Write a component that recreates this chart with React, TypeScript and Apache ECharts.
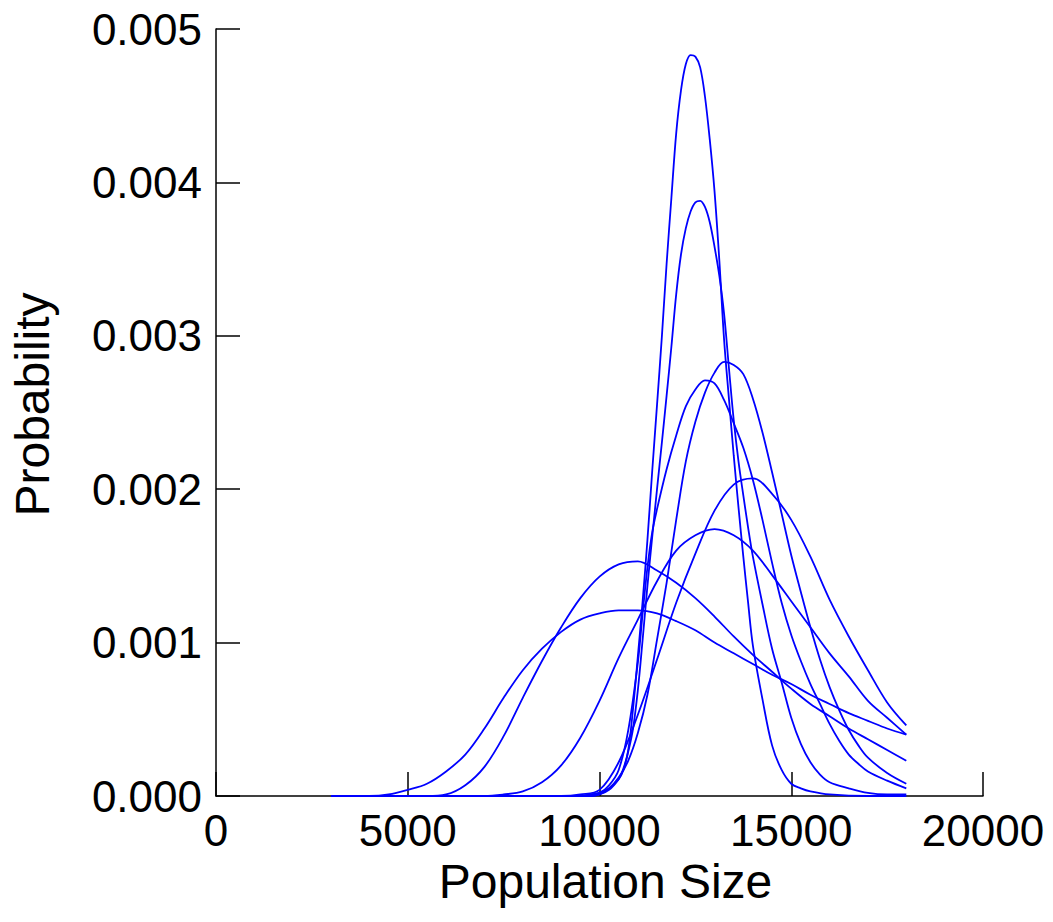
import React, { useEffect, useRef } from "react";
import * as echarts from "echarts";

const xTicks = [0, 5000, 10000, 15000, 20000];
const yTicks = [0, 0.001, 0.002, 0.003, 0.004, 0.005];
const xAxisTitle = "Population Size";
const yAxisTitle = "Probability";

const curveA: [number, number][] = [
  [3000, 0], [9500, 0], [9750, 0], [10000, 0.00001], [10250, 0.00004], [10500, 0.00011],
  [10625, 0.00017], [10750, 0.0003], [10875, 0.00057], [11000, 0.00091], [11125, 0.00127],
  [11250, 0.00167], [11375, 0.00212], [11500, 0.00255], [11625, 0.00299], [11750, 0.00347],
  [11875, 0.0039], [12000, 0.00432], [12125, 0.0046], [12250, 0.00477], [12375, 0.00483],
  [12500, 0.00482], [12625, 0.00475], [12750, 0.00456], [12875, 0.00428], [13000, 0.00394],
  [13125, 0.00349], [13250, 0.00297], [13375, 0.00259], [13500, 0.00222], [13625, 0.00188],
  [13750, 0.00156], [13875, 0.00126], [14000, 0.00098], [14250, 0.00063], [14500, 0.00033],
  [14750, 0.00017], [15000, 0.00008], [15250, 0.00005], [15500, 0.00003], [16000, 0.00001],
  [17000, 0], [18000, 0],
];
const curveB: [number, number][] = [
  [3000, 0], [9000, 0], [9500, 0], [9750, 0.00001], [10000, 0.00002], [10250, 0.00005],
  [10500, 0.00011], [10625, 0.00018], [10750, 0.00029], [10875, 0.00044], [11000, 0.00069],
  [11125, 0.00102], [11250, 0.00137], [11375, 0.00169], [11500, 0.002], [11625, 0.0023],
  [11750, 0.00261], [11875, 0.00293], [12000, 0.00327], [12125, 0.00353], [12250, 0.0037],
  [12375, 0.00381], [12500, 0.00387], [12625, 0.00388], [12750, 0.00384], [12875, 0.00374],
  [13000, 0.00358], [13125, 0.00339], [13250, 0.00314], [13375, 0.00279], [13500, 0.00245],
  [13625, 0.00218], [13750, 0.00196], [13875, 0.00175], [14000, 0.00156], [14250, 0.00125],
  [14500, 0.00096], [14750, 0.00074], [15000, 0.00051], [15250, 0.00034], [15500, 0.00022],
  [15750, 0.00014], [16000, 0.00009], [16500, 0.00005], [17000, 0.00002], [17500, 0.00001],
  [18000, 0.00001],
];
const curveC: [number, number][] = [
  [3000, 0], [9000, 0], [9500, 0], [9750, 0], [10000, 0.00001], [10250, 0.00005],
  [10500, 0.00012], [10750, 0.00023], [11000, 0.00041], [11250, 0.00066], [11500, 0.00102],
  [11750, 0.00139], [12000, 0.0018], [12250, 0.00218], [12500, 0.00244], [12750, 0.00263],
  [13000, 0.00276], [13250, 0.00283], [13500, 0.00281], [13750, 0.00275], [14000, 0.00259],
  [14250, 0.00237], [14500, 0.00211], [14750, 0.00184], [15000, 0.00157], [15250, 0.00133],
  [15500, 0.0011], [15750, 0.00089], [16000, 0.00071], [16250, 0.00056], [16500, 0.00043],
  [16750, 0.00033], [17000, 0.00025], [17500, 0.00015], [18000, 0.00008],
];
const curveD: [number, number][] = [
  [3000, 0], [9000, 0], [9500, 0], [9750, 0.00001], [10000, 0.00002], [10250, 0.00007],
  [10500, 0.00017], [10750, 0.00043], [11000, 0.00087], [11125, 0.00119], [11250, 0.00149],
  [11375, 0.00172], [11500, 0.00187], [11750, 0.00213], [12000, 0.00235], [12250, 0.00254],
  [12500, 0.00265], [12750, 0.00271], [13000, 0.00269], [13250, 0.00258], [13500, 0.00243],
  [13750, 0.00227], [14000, 0.00206], [14250, 0.0018], [14500, 0.00152], [14750, 0.00126],
  [15000, 0.00105], [15250, 0.00088], [15500, 0.00073], [15750, 0.0006], [16000, 0.00047],
  [16250, 0.00036], [16500, 0.00027], [16750, 0.00021], [17000, 0.00016], [17500, 0.0001],
  [18000, 0.00005],
];
const curveE: [number, number][] = [
  [3000, 0], [4000, 0], [5000, 0], [6000, 0], [7000, 0], [8000, 0], [8500, 0], [9000, 0],
  [9500, 0.00001], [10000, 0.00004], [10500, 0.00022], [11000, 0.00053], [11500, 0.00089],
  [12000, 0.00126], [12500, 0.00158], [13000, 0.00186], [13500, 0.00203], [14000, 0.00207],
  [14500, 0.00197], [15000, 0.0018], [15500, 0.00156], [16000, 0.00128], [16500, 0.00104],
  [17000, 0.00082], [17500, 0.00061], [18000, 0.00046],
];
const curveF: [number, number][] = [
  [3000, 0], [4000, 0], [5000, 0], [6000, 0], [6500, 0], [7000, 0], [7500, 0.00001],
  [8000, 0.00003], [8500, 0.00009], [9000, 0.0002], [9500, 0.00038], [10000, 0.00062],
  [10500, 0.0009], [11000, 0.00115], [11500, 0.0014], [12000, 0.0016], [12500, 0.0017],
  [13000, 0.00174], [13500, 0.0017], [14000, 0.0016], [14500, 0.00144], [15000, 0.00127],
  [15500, 0.0011], [16000, 0.00093], [16500, 0.00078], [17000, 0.00062], [17500, 0.00051],
  [18000, 0.0004],
];
const curveG: [number, number][] = [
  [3000, 0], [3500, 0], [4000, 0], [4500, 0], [5000, 0], [5500, 0], [6000, 0.00001],
  [6500, 0.00007], [7000, 0.00019], [7500, 0.00039], [8000, 0.00064], [8500, 0.00088],
  [9000, 0.0011], [9500, 0.00129], [10000, 0.00143], [10500, 0.00151], [11000, 0.00153],
  [11500, 0.00147], [12000, 0.00139], [12500, 0.00129], [13000, 0.00117], [13500, 0.00104],
  [14000, 0.00092], [14500, 0.00081], [15000, 0.0007], [15500, 0.0006], [16000, 0.00052],
  [16500, 0.00044], [17000, 0.00037], [17500, 0.0003], [18000, 0.00023],
];
const curveH: [number, number][] = [
  [3000, 0], [3500, 0], [4000, 0], [4500, 0.00001], [5000, 0.00004], [5500, 0.00008],
  [6000, 0.00016], [6500, 0.00027], [7000, 0.00044], [7500, 0.00064], [8000, 0.00082],
  [8500, 0.00096], [9000, 0.00107], [9500, 0.00115], [10000, 0.00119], [10500, 0.00121],
  [11000, 0.00121], [11500, 0.00119], [12000, 0.00114], [12500, 0.00108], [13000, 0.001],
  [13500, 0.00093], [14000, 0.00086], [14500, 0.00079], [15000, 0.00073], [15500, 0.00066],
  [16000, 0.0006], [16500, 0.00054], [17000, 0.00049], [17500, 0.00044], [18000, 0.0004],
];

const curves = [curveA, curveB, curveC, curveD, curveE, curveF, curveG, curveH];

export default function App() {
  const ref = useRef<HTMLDivElement>(null);
  useEffect(() => {
    const chart = echarts.init(ref.current!, null, { renderer: "svg" });
    const font = "'Liberation Sans', Arial, Helvetica, sans-serif";
    chart.setOption({
      animation: false,
      backgroundColor: "#ffffff",
      grid: { left: 215, right: 70, top: 29, bottom: 126, containLabel: false },
      xAxis: {
        type: "value",
        min: xTicks[0],
        max: xTicks[xTicks.length - 1],
        interval: 5000,
        name: xAxisTitle,
        nameLocation: "middle",
        nameGap: 61,
        nameTextStyle: { fontFamily: font, fontSize: 48, color: "#000", padding: [0, 0, 0, 12] },
        axisLine: { show: true, lineStyle: { color: "#000", width: 1.5 } },
        axisTick: { show: true, inside: true, length: 24, lineStyle: { color: "#000", width: 1.5 } },
        axisLabel: {
          fontFamily: font,
          fontSize: 44,
          color: "#000",
          margin: 12,
          formatter: (v: number) => String(v),
        },
        splitLine: { show: false },
      },
      yAxis: {
        type: "value",
        min: yTicks[0],
        max: yTicks[yTicks.length - 1],
        interval: 0.001,
        name: yAxisTitle,
        nameLocation: "middle",
        nameGap: 160,
        nameRotate: 90,
        nameTextStyle: { fontFamily: font, fontSize: 48, color: "#000", padding: [0, 0, 0, 16] },
        axisLine: { show: true, lineStyle: { color: "#000", width: 1.5 } },
        axisTick: { show: true, inside: true, length: 24, lineStyle: { color: "#000", width: 1.5 } },
        axisLabel: {
          fontFamily: font,
          fontSize: 44,
          color: "#000",
          margin: 14,
          formatter: (v: number) => v.toFixed(3),
        },
        splitLine: { show: false },
      },
      series: curves.map((c) => ({
        type: "line",
        data: c,
        smooth: 0.35,
        showSymbol: false,
        symbol: "none",
        lineStyle: { color: "#0000ff", width: 1.8 },
        z: 1,
      })),
    });
    return () => chart.dispose();
  }, []);
  return (
    <div
      ref={ref}
      style={{ position: "fixed", left: 0, top: 0, width: 1053, height: 922, background: "#fff" }}
    />
  );
}
